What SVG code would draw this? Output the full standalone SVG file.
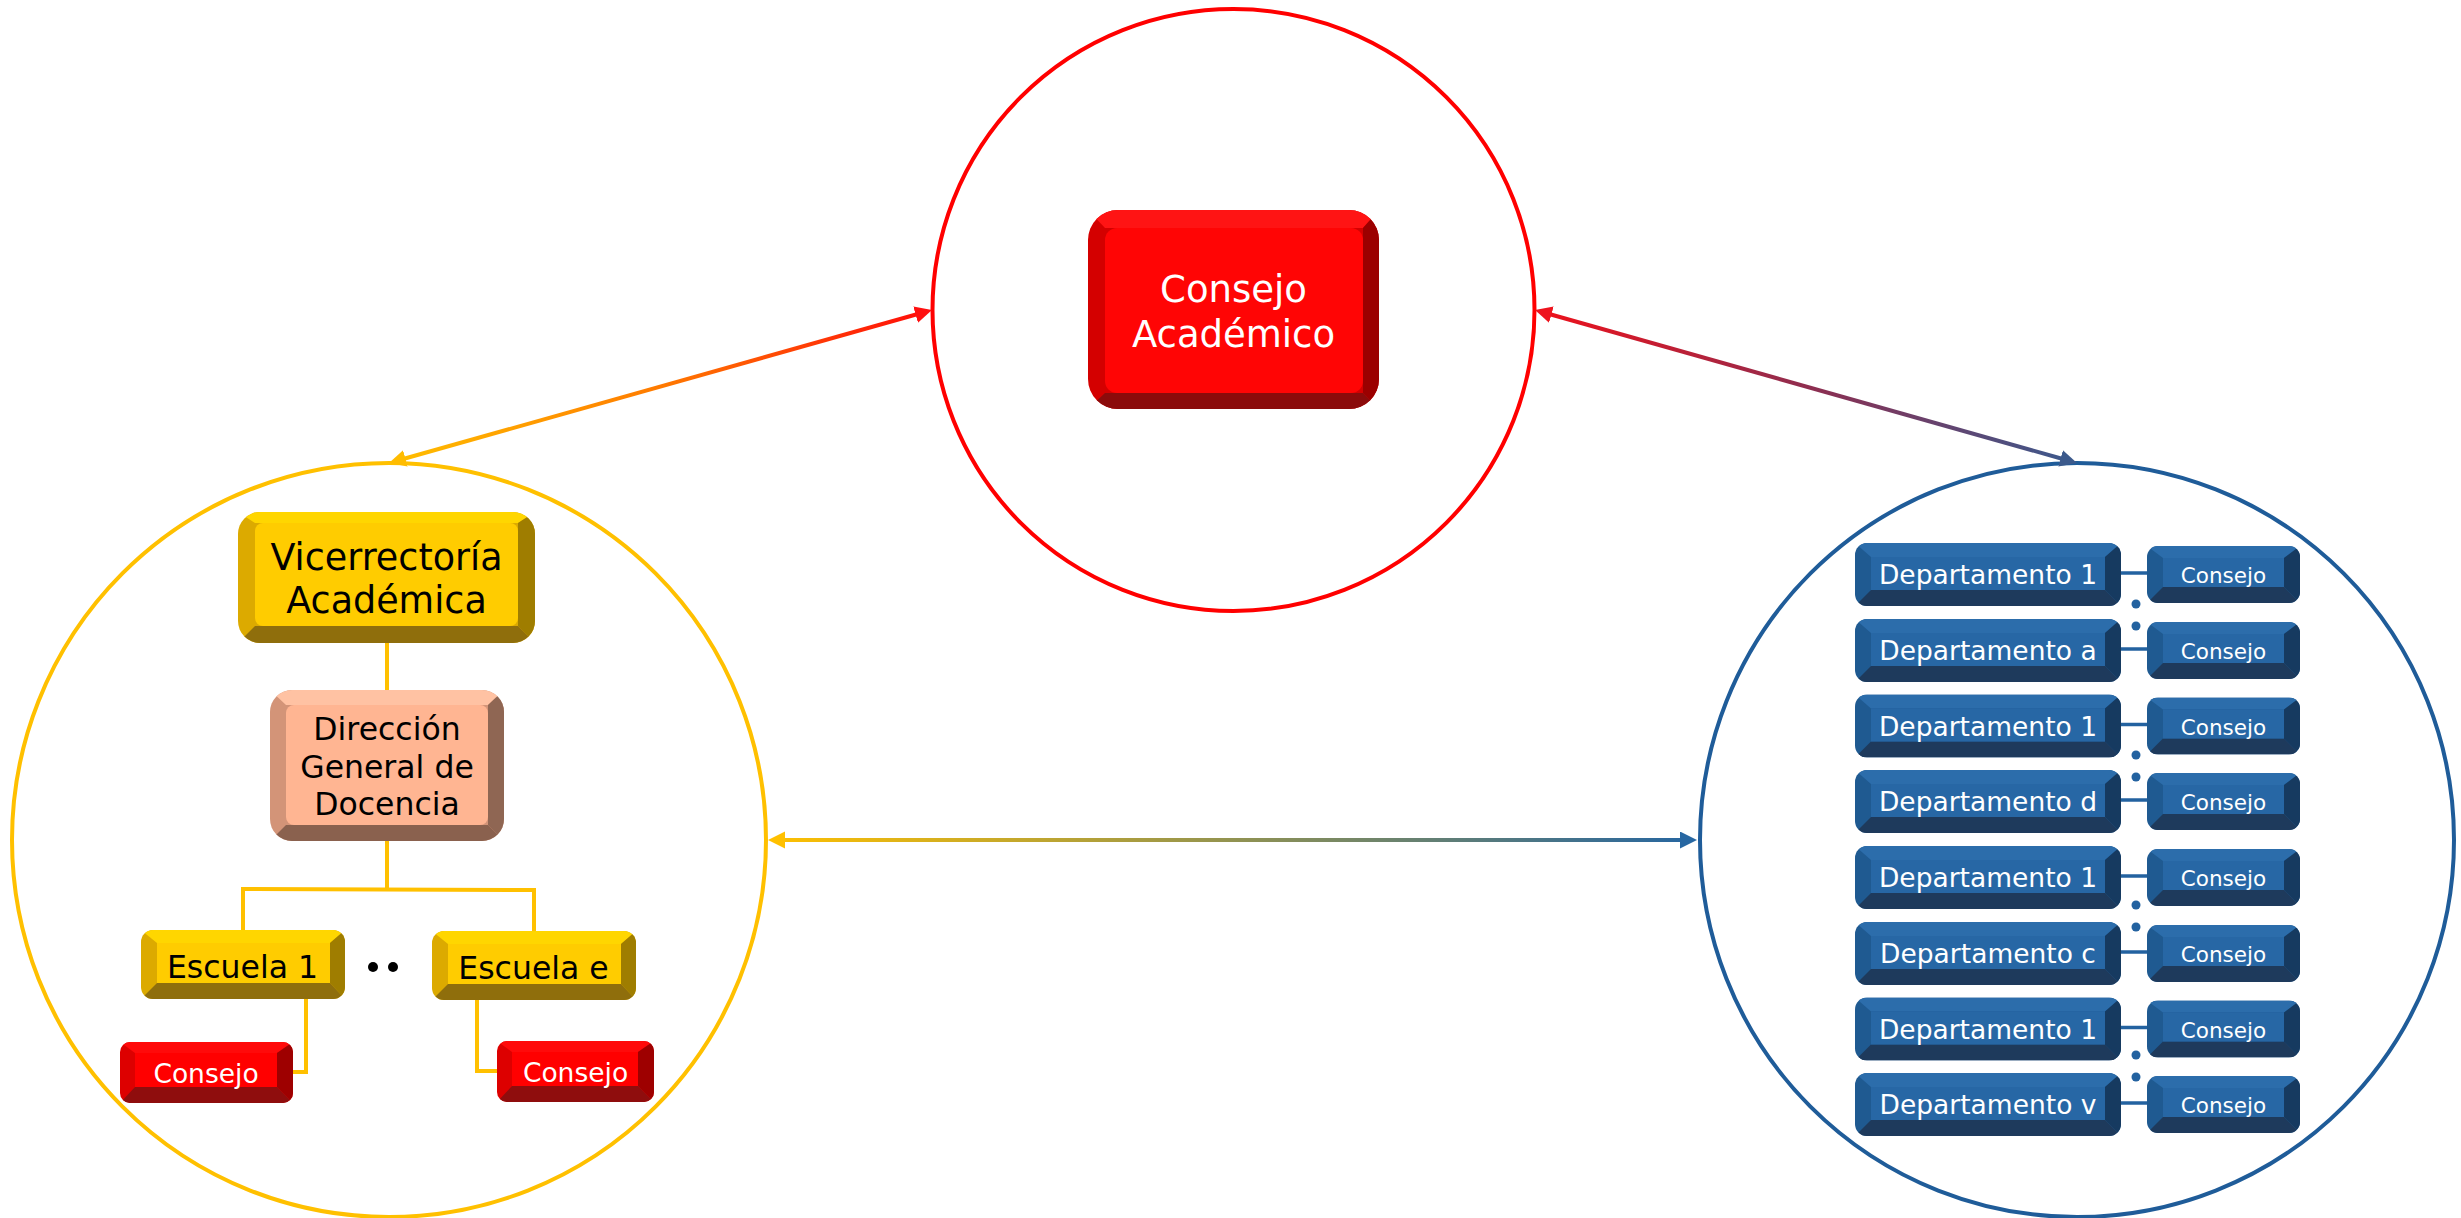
<svg xmlns="http://www.w3.org/2000/svg" xmlns:xlink="http://www.w3.org/1999/xlink" width="2461" height="1218" viewBox="0 0 2461 1218">
<style>
.t{font-family:"DejaVu Sans","Verdana","Liberation Sans",sans-serif;text-anchor:middle}
.w{fill:#ffffff}
.k{fill:#000000}
.yl{fill:none;stroke:#ffc000;stroke-width:4}
.bl{fill:none;stroke:#2362a0;stroke-width:3.5}
.ring{fill:none;stroke-width:4}
.dot{fill:#2362a0}
</style>
<defs>
<linearGradient id="gL" gradientUnits="userSpaceOnUse" x1="389" y1="463" x2="932" y2="310"><stop offset="0" stop-color="#ffc000"/><stop offset="0.5" stop-color="#ff7a00"/><stop offset="1" stop-color="#ff0a0a"/></linearGradient>
<linearGradient id="gR" gradientUnits="userSpaceOnUse" x1="1535" y1="310" x2="2077" y2="463"><stop offset="0" stop-color="#f0101a"/><stop offset="0.5" stop-color="#8f2d4f"/><stop offset="1" stop-color="#3a5a8e"/></linearGradient>
<linearGradient id="gM" gradientUnits="userSpaceOnUse" x1="767" y1="840" x2="1700" y2="840"><stop offset="0" stop-color="#ffc000"/><stop offset="1" stop-color="#2465a2"/></linearGradient>
<marker id="mY" markerUnits="userSpaceOnUse" markerWidth="18" markerHeight="18" refX="6" refY="8.5" orient="auto-start-reverse"><path d="M0,0 L17,8.5 L0,17 Z" fill="#ffbc00"/></marker>
<marker id="mRd" markerUnits="userSpaceOnUse" markerWidth="18" markerHeight="18" refX="6" refY="8.5" orient="auto-start-reverse"><path d="M0,0 L17,8.5 L0,17 Z" fill="#ff1010"/></marker>
<marker id="mRd2" markerUnits="userSpaceOnUse" markerWidth="18" markerHeight="18" refX="6" refY="8.5" orient="auto-start-reverse"><path d="M0,0 L17,8.5 L0,17 Z" fill="#ee141e"/></marker>
<marker id="mBl" markerUnits="userSpaceOnUse" markerWidth="18" markerHeight="18" refX="6" refY="8.5" orient="auto-start-reverse"><path d="M0,0 L17,8.5 L0,17 Z" fill="#3c5a8c"/></marker>
<marker id="mY2" markerUnits="userSpaceOnUse" markerWidth="18" markerHeight="18" refX="6" refY="8.5" orient="auto-start-reverse"><path d="M0,0 L17,8.5 L0,17 Z" fill="#ffc000"/></marker>
<marker id="mB2" markerUnits="userSpaceOnUse" markerWidth="18" markerHeight="18" refX="6" refY="8.5" orient="auto-start-reverse"><path d="M0,0 L17,8.5 L0,17 Z" fill="#2767a2"/></marker>

<clipPath id="cCA"><rect width="291" height="199" rx="30"/></clipPath>
<clipPath id="cVA"><rect width="297" height="131" rx="22"/></clipPath>
<clipPath id="cDG"><rect width="234" height="151" rx="22"/></clipPath>
<clipPath id="cES"><rect width="204" height="69" rx="12"/></clipPath>
<clipPath id="cC1"><rect width="173" height="61" rx="10"/></clipPath>
<clipPath id="cC2"><rect width="157" height="61" rx="10"/></clipPath>
<clipPath id="cDP"><rect width="266" height="63" rx="12"/></clipPath>
<clipPath id="cBC"><rect width="153" height="57" rx="11"/></clipPath>

<g id="bCA">
 <g clip-path="url(#cCA)">
  <rect width="291" height="199" fill="#d40000"/>
  <polygon points="0,0 291,0 275,18 17,18" fill="#ff1414"/>
  <polygon points="291,0 291,199 275,183 275,18" fill="#9b0000"/>
  <polygon points="0,199 291,199 275,183 17,183" fill="#8b0b0b"/>
 </g>
 <rect x="17" y="18" width="258" height="165" rx="12" fill="#ff0505"/>
</g>
<g id="bVA">
 <g clip-path="url(#cVA)">
  <rect width="297" height="131" fill="#dcaa00"/>
  <polygon points="0,0 297,0 280,11 17,11" fill="#ffd600"/>
  <polygon points="297,0 297,131 280,114 280,11" fill="#9f7d00"/>
  <polygon points="0,131 297,131 280,114 17,114" fill="#8f6e0c"/>
 </g>
 <rect x="17" y="11" width="263" height="103" rx="8" fill="#ffcc00"/>
</g>
<g id="bDG">
 <g clip-path="url(#cDG)">
  <rect width="234" height="151" fill="#d39478"/>
  <polygon points="0,0 234,0 218,15 16,15" fill="#ffc2a3"/>
  <polygon points="234,0 234,151 218,135 218,15" fill="#8f6653"/>
  <polygon points="0,151 234,151 218,135 16,135" fill="#8a614e"/>
 </g>
 <rect x="16" y="15" width="202" height="120" rx="8" fill="#ffb592"/>
</g>
<g id="bES">
 <g clip-path="url(#cES)">
  <rect width="204" height="69" fill="#dcaa00"/>
  <polygon points="0,0 204,0 189,13 16,13" fill="#ffd600"/>
  <polygon points="204,0 204,69 189,53 189,13" fill="#9f7d00"/>
  <polygon points="0,69 204,69 189,53 16,53" fill="#8f6e0c"/>
 </g>
 <rect x="16" y="13" width="173" height="40" fill="#ffcc00"/>
</g>
<g id="bC1">
 <g clip-path="url(#cC1)">
  <rect width="173" height="61" fill="#dd0000"/>
  <polygon points="0,0 173,0 157,11 15,11" fill="#ff0a0a"/>
  <polygon points="173,0 173,61 157,45 157,11" fill="#9e0000"/>
  <polygon points="0,61 173,61 157,45 15,45" fill="#8f0d0d"/>
 </g>
 <rect x="15" y="11" width="142" height="34" fill="#ff0000"/>
</g>
<g id="bC2">
 <g clip-path="url(#cC2)">
  <rect width="157" height="61" fill="#dd0000"/>
  <polygon points="0,0 157,0 141,11 15,11" fill="#ff0a0a"/>
  <polygon points="157,0 157,61 141,45 141,11" fill="#9e0000"/>
  <polygon points="0,61 157,61 141,45 15,45" fill="#8f0d0d"/>
 </g>
 <rect x="15" y="11" width="126" height="34" fill="#ff0000"/>
</g>
<g id="bDP">
 <g clip-path="url(#cDP)">
  <rect width="266" height="63" fill="#1f5a91"/>
  <polygon points="0,0 266,0 250,14 16,14" fill="#2c6dab"/>
  <polygon points="266,0 266,63 250,47 250,14" fill="#163a60"/>
  <polygon points="0,63 266,63 250,47 16,47" fill="#1e3a5c"/>
 </g>
 <rect x="16" y="14" width="234" height="33" fill="#2767a5"/>
</g>
<g id="bBC">
 <g clip-path="url(#cBC)">
  <rect width="153" height="57" fill="#1f5a91"/>
  <polygon points="0,0 153,0 137,12 16,12" fill="#2c6dab"/>
  <polygon points="153,0 153,57 137,41 137,12" fill="#163a60"/>
  <polygon points="0,57 153,57 137,41 16,41" fill="#1e3a5c"/>
 </g>
 <rect x="16" y="12" width="121" height="29" fill="#2767a5"/>
</g>
</defs>

<rect width="2461" height="1218" fill="#ffffff"/>

<g id="circles">
 <circle id="ring-consejo" class="ring" cx="1233.5" cy="310" r="301" stroke="#ff0000"/>
 <circle id="ring-vicerrectoria" class="ring" cx="389" cy="840" r="377" stroke="#ffc000"/>
 <circle id="ring-departamentos" class="ring" cx="2077" cy="840" r="377" stroke="#1f5c99"/>
</g>

<g id="connectors">
 <line x1="399.6" y1="460.0" x2="921.4" y2="313.0" stroke="url(#gL)" stroke-width="4" marker-start="url(#mY)" marker-end="url(#mRd)"/>
 <line x1="1545.6" y1="313.0" x2="2066.4" y2="460.0" stroke="url(#gR)" stroke-width="4" marker-start="url(#mRd2)" marker-end="url(#mBl)"/>
 <line x1="779" y1="840" x2="1686" y2="840" stroke="url(#gM)" stroke-width="4" marker-start="url(#mY2)" marker-end="url(#mB2)"/>
 <line class="yl" x1="387" y1="643" x2="387" y2="690"/>
 <line class="yl" x1="387" y1="841" x2="387" y2="889"/>
 <polyline class="yl" points="243,931 243,889 534,890 534,931"/>
 <polyline class="yl" points="306,999 306,1072 293,1072"/>
 <polyline class="yl" points="477,1000 477,1071 497,1071"/>
 <line class="bl" x1="2121" y1="573" x2="2147" y2="573"/>
 <line class="bl" x1="2121" y1="649" x2="2147" y2="649"/>
 <line class="bl" x1="2121" y1="724.5" x2="2147" y2="724.5"/>
 <line class="bl" x1="2121" y1="800" x2="2147" y2="800"/>
 <line class="bl" x1="2121" y1="876" x2="2147" y2="876"/>
 <line class="bl" x1="2121" y1="952" x2="2147" y2="952"/>
 <line class="bl" x1="2121" y1="1027.5" x2="2147" y2="1027.5"/>
 <line class="bl" x1="2121" y1="1103" x2="2147" y2="1103"/>
</g>

<g id="consejo-academico">
 <use href="#bCA" x="1088" y="210"/>
 <text class="t w" font-size="37" x="1233.5" y="302">Consejo</text>
 <text class="t w" font-size="37" x="1233.5" y="347">Académico</text>
</g>
<g id="vicerrectoria">
 <use href="#bVA" x="238" y="512"/>
 <text class="t k" font-size="36.5" x="386.5" y="570">Vicerrectoría</text>
 <text class="t k" font-size="36.5" x="386.5" y="613">Académica</text>
</g>
<g id="direccion">
 <use href="#bDG" x="270" y="690"/>
 <text class="t k" font-size="31.5" x="387" y="740">Dirección</text>
 <text class="t k" font-size="31.5" x="387" y="778">General de</text>
 <text class="t k" font-size="31.5" x="387" y="815">Docencia</text>
</g>
<g id="escuela-1">
 <use href="#bES" x="141" y="930"/>
 <text class="t k" font-size="31.5" x="242.5" y="978">Escuela 1</text>
</g>
<g id="ellipsis-escuelas">
 <circle cx="373" cy="967" r="5" fill="#000"/>
 <circle cx="393" cy="967" r="5" fill="#000"/>
</g>
<g id="escuela-e">
 <use href="#bES" x="432" y="931"/>
 <text class="t k" font-size="31.5" x="533.5" y="979">Escuela e</text>
</g>
<g id="consejo-escuela-1">
 <use href="#bC1" x="120" y="1042"/>
 <text class="t w" font-size="26.5" x="206" y="1083">Consejo</text>
</g>
<g id="consejo-escuela-e">
 <use href="#bC2" x="497" y="1041"/>
 <text class="t w" font-size="26.5" x="575.5" y="1082">Consejo</text>
</g>

<g id="dep-1a">
 <use href="#bDP" x="1855" y="543"/>
 <text class="t w" font-size="26.5" x="1988" y="584">Departamento 1</text>
</g>
<g id="consejo-1a">
 <use href="#bBC" x="2147" y="546"/>
 <text class="t w" font-size="21.5" x="2223.5" y="583">Consejo</text>
</g>
<g id="dep-a">
 <use href="#bDP" x="1855" y="619"/>
 <text class="t w" font-size="26.5" x="1988" y="660">Departamento a</text>
</g>
<g id="consejo-a">
 <use href="#bBC" x="2147" y="622"/>
 <text class="t w" font-size="21.5" x="2223.5" y="659">Consejo</text>
</g>
<g id="dep-1d">
 <use href="#bDP" x="1855" y="694.5"/>
 <text class="t w" font-size="26.5" x="1988" y="735.5">Departamento 1</text>
</g>
<g id="consejo-1d">
 <use href="#bBC" x="2147" y="697.5"/>
 <text class="t w" font-size="21.5" x="2223.5" y="734.5">Consejo</text>
</g>
<g id="dep-d">
 <use href="#bDP" x="1855" y="770"/>
 <text class="t w" font-size="26.5" x="1988" y="811">Departamento d</text>
</g>
<g id="consejo-d">
 <use href="#bBC" x="2147" y="773"/>
 <text class="t w" font-size="21.5" x="2223.5" y="810">Consejo</text>
</g>
<g id="dep-1c">
 <use href="#bDP" x="1855" y="846"/>
 <text class="t w" font-size="26.5" x="1988" y="887">Departamento 1</text>
</g>
<g id="consejo-1c">
 <use href="#bBC" x="2147" y="849"/>
 <text class="t w" font-size="21.5" x="2223.5" y="886">Consejo</text>
</g>
<g id="dep-c">
 <use href="#bDP" x="1855" y="922"/>
 <text class="t w" font-size="26.5" x="1988" y="963">Departamento c</text>
</g>
<g id="consejo-c">
 <use href="#bBC" x="2147" y="925"/>
 <text class="t w" font-size="21.5" x="2223.5" y="962">Consejo</text>
</g>
<g id="dep-1v">
 <use href="#bDP" x="1855" y="997.5"/>
 <text class="t w" font-size="26.5" x="1988" y="1038.5">Departamento 1</text>
</g>
<g id="consejo-1v">
 <use href="#bBC" x="2147" y="1000.5"/>
 <text class="t w" font-size="21.5" x="2223.5" y="1037.5">Consejo</text>
</g>
<g id="dep-v">
 <use href="#bDP" x="1855" y="1073"/>
 <text class="t w" font-size="26.5" x="1988" y="1114">Departamento v</text>
</g>
<g id="consejo-v">
 <use href="#bBC" x="2147" y="1076"/>
 <text class="t w" font-size="21.5" x="2223.5" y="1113">Consejo</text>
</g>

<g id="ellipsis-departamentos">
 <circle class="dot" cx="2136" cy="604" r="4.5"/>
 <circle class="dot" cx="2136" cy="626" r="4.5"/>
 <circle class="dot" cx="2136" cy="755" r="4.5"/>
 <circle class="dot" cx="2136" cy="777" r="4.5"/>
 <circle class="dot" cx="2136" cy="905" r="4.5"/>
 <circle class="dot" cx="2136" cy="927" r="4.5"/>
 <circle class="dot" cx="2136" cy="1055" r="4.5"/>
 <circle class="dot" cx="2136" cy="1077" r="4.5"/>
</g>
</svg>
